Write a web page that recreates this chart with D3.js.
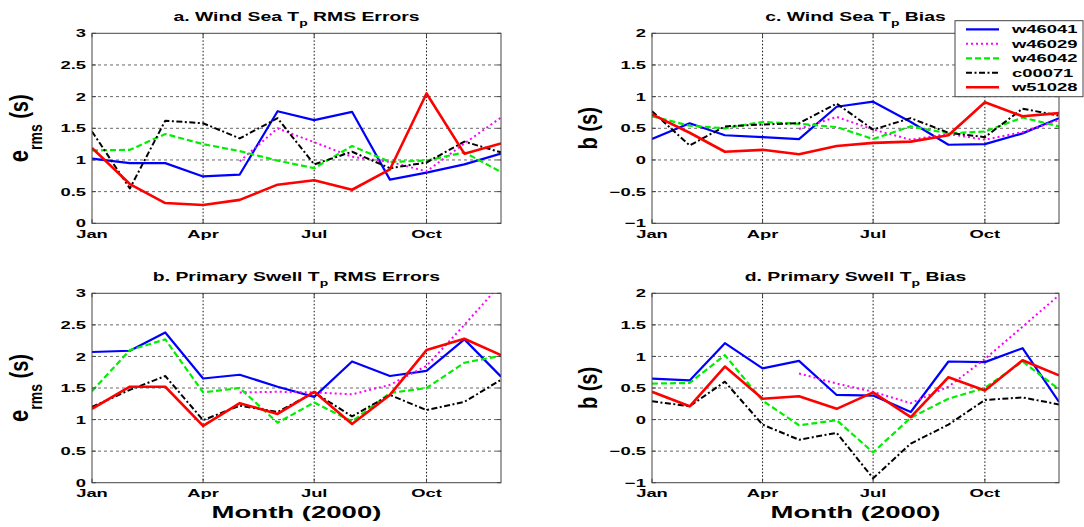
<!DOCTYPE html>
<html><head><meta charset="utf-8">
<script src="https://cdn.jsdelivr.net/npm/d3@7"></script>
<style>body{margin:0;background:#fff} svg{display:block}</style>
</head><body><svg id="c" width="1084" height="527"></svg>
<script>
// ---------- DATA ----------
const monthIdx = [0,1,2,3,4,5,6,7,8,9,10,11];
const xTickMonths = [0,3,6,9];
const xTickLabels = ["Jan","Apr","Jul","Oct"];
const stationNames = ["w46041","w46029","w46042","c00071","w51028"];
const rmsTicks = [0,0.5,1,1.5,2,2.5,3];
const biasTicks = [-1,-0.5,0,0.5,1,1.5,2];

// a. Wind Sea Tp RMS Errors
const windRms_w46041 = [1.02,0.95,0.95,0.74,0.77,1.77,1.63,1.76,0.69,0.80,0.93,1.10];
const windRms_w46029 = [null,null,null,null,0.98,1.50,1.28,1.05,0.97,0.82,1.26,1.67];
const windRms_w46042 = [1.15,1.16,1.41,1.25,1.14,0.99,0.87,1.22,0.97,0.99,1.12,0.81];
const windRms_c00071 = [1.45,0.55,1.62,1.58,1.34,1.66,0.93,1.13,0.87,0.96,1.29,1.12];
const windRms_w51028 = [1.19,0.62,0.32,0.29,0.37,0.61,0.68,0.53,0.85,2.05,1.10,1.26];

// b. Primary Swell Tp RMS Errors
const swellRms_w46041 = [2.07,2.09,2.38,1.65,1.71,1.52,1.36,1.92,1.69,1.77,2.27,1.68];
const swellRms_w46029 = [null,null,null,null,1.43,1.44,1.43,1.40,1.55,1.85,2.50,3.15];
const swellRms_w46042 = [1.45,2.10,2.27,1.43,1.50,0.95,1.27,0.97,1.42,1.50,1.90,2.01];
const swellRms_c00071 = [1.20,1.47,1.69,0.99,1.22,1.12,1.43,1.05,1.39,1.15,1.28,1.63];
const swellRms_w51028 = [1.17,1.52,1.52,0.90,1.26,1.09,1.44,0.93,1.39,2.10,2.28,2.02];

// c. Wind Sea Tp Bias
const windBias_w46041 = [0.33,0.58,0.39,0.36,0.33,0.84,0.92,0.60,0.24,0.25,0.42,0.66];
const windBias_w46029 = [null,null,null,null,0.49,0.68,0.48,0.32,0.41,0.32,0.44,0.63];
const windBias_w46042 = [0.69,0.54,0.50,0.60,0.57,0.52,0.33,0.53,0.42,0.45,0.67,0.53];
const windBias_c00071 = [0.77,0.23,0.53,0.56,0.58,0.89,0.48,0.66,0.43,0.36,0.81,0.70];
const windBias_w51028 = [0.72,0.43,0.13,0.16,0.09,0.22,0.27,0.29,0.39,0.91,0.69,0.74];

// d. Primary Swell Tp Bias
const swellBias_w46041 = [0.65,0.62,1.21,0.81,0.93,0.39,0.38,0.12,0.92,0.91,1.13,0.28];
const swellBias_w46029 = [null,null,null,null,0.73,0.57,0.44,0.26,0.52,0.96,1.47,1.97];
const swellBias_w46042 = [0.57,0.58,1.02,0.30,-0.09,-0.01,-0.52,0.03,0.33,0.50,0.92,0.48];
const swellBias_c00071 = [0.29,0.21,0.60,-0.08,-0.32,-0.21,-0.93,-0.38,-0.08,0.31,0.35,0.24];
const swellBias_w51028 = [0.44,0.21,0.84,0.33,0.37,0.17,0.43,0.04,0.67,0.46,0.94,0.70];

// ---------- STYLE ----------
const styles = [
  {color:"#0000ff", width:2.2, dash:null},
  {color:"#ff00ff", width:2,   dash:"2,3"},
  {color:"#00ee00", width:2.2, dash:"6,3"},
  {color:"#000000", width:2,   dash:"6,2.5,2,2.5"},
  {color:"#ff0000", width:2.6, dash:null}
];
const FONT = "'Liberation Sans', Arial, Helvetica, sans-serif";
const SX = 1.6;

const svg = d3.select("#c");

function stext(parent, x, y, anchor, size, sx) {
  return parent.append("text")
    .attr("transform", `translate(${x},${y}) scale(${sx},1)`)
    .attr("text-anchor", anchor)
    .style("font-family", FONT)
    .style("font-size", size + "px")
    .style("font-weight", "bold")
    .attr("fill", "#000");
}

const panels = [
  {key:"a", title:["a. Wind Sea T","p"," RMS Errors"], x0:92, x1:501, y0:33.3, y1:223.3,
   domain:[0,3], ticks:rmsTicks, ylab:"rms", lx:28, xlabel:false,
   series:[windRms_w46041,windRms_w46029,windRms_w46042,windRms_c00071,windRms_w51028]},
  {key:"b", title:["b. Primary Swell T","p"," RMS Errors"], x0:92, x1:501, y0:293.3, y1:482.7,
   domain:[0,3], ticks:rmsTicks, ylab:"rms", lx:28, xlabel:true,
   series:[swellRms_w46041,swellRms_w46029,swellRms_w46042,swellRms_c00071,swellRms_w51028]},
  {key:"c", title:["c. Wind Sea T","p"," Bias"], x0:652, x1:1059, y0:33.3, y1:223.3,
   domain:[-1,2], ticks:biasTicks, ylab:"bias", lx:597, xlabel:false,
   series:[windBias_w46041,windBias_w46029,windBias_w46042,windBias_c00071,windBias_w51028]},
  {key:"d", title:["d. Primary Swell T","p"," Bias"], x0:652, x1:1059, y0:293.3, y1:482.7,
   domain:[-1,2], ticks:biasTicks, ylab:"bias", lx:597, xlabel:true,
   series:[swellBias_w46041,swellBias_w46029,swellBias_w46042,swellBias_c00071,swellBias_w51028]}
];

const defs = svg.append("defs");

panels.forEach(p => {
  const x = d3.scaleTime().domain([new Date(2000,0,1), new Date(2000,11,1)]).range([p.x0, p.x1]);
  const y = d3.scaleLinear().domain(p.domain).range([p.y1, p.y0]);
  const g = svg.append("g");

  // grid
  const inner = p.ticks.filter(t => t !== p.domain[0] && t !== p.domain[1]);
  g.selectAll(null).data(inner).enter().append("line")
    .attr("x1", p.x0).attr("x2", p.x1)
    .attr("y1", d => y(d)).attr("y2", d => y(d))
    .attr("stroke", "#6a6a6a").attr("stroke-width", 1).attr("stroke-dasharray", "3,3");
  g.selectAll(null).data(xTickMonths.slice(1)).enter().append("line")
    .attr("x1", d => x(new Date(2000,d,1))).attr("x2", d => x(new Date(2000,d,1)))
    .attr("y1", p.y0).attr("y2", p.y1)
    .attr("stroke", "#111").attr("stroke-width", 1).attr("stroke-dasharray", "1.5,2");

  // series
  defs.append("clipPath").attr("id", "clip-" + p.key).append("rect")
    .attr("x", p.x0).attr("y", p.y0).attr("width", p.x1 - p.x0).attr("height", p.y1 - p.y0);
  const line = d3.line()
    .defined(d => d.v !== null)
    .x(d => x(new Date(2000, d.m, 1)))
    .y(d => y(d.v));
  const lg = g.append("g").attr("clip-path", `url(#clip-${p.key})`);
  p.series.forEach((arr, i) => {
    const st = styles[i];
    lg.append("path")
      .datum(monthIdx.map(m => ({m: m, v: arr[m]})))
      .attr("d", line)
      .attr("fill", "none")
      .attr("stroke", st.color)
      .attr("stroke-width", st.width)
      .attr("stroke-dasharray", st.dash)
      .attr("stroke-linejoin", "round");
  });

  // frame
  g.append("rect").attr("x", p.x0).attr("y", p.y0)
    .attr("width", p.x1 - p.x0).attr("height", p.y1 - p.y0)
    .attr("fill", "none").attr("stroke", "#444").attr("stroke-width", 1);

  // tick marks (inward)
  p.ticks.forEach(t => {
    g.append("line").attr("x1", p.x0).attr("x2", p.x0 + 4).attr("y1", y(t)).attr("y2", y(t)).attr("stroke", "#444");
    g.append("line").attr("x1", p.x1).attr("x2", p.x1 - 4).attr("y1", y(t)).attr("y2", y(t)).attr("stroke", "#444");
  });
  xTickMonths.forEach(m => {
    const xx = x(new Date(2000, m, 1));
    g.append("line").attr("x1", xx).attr("x2", xx).attr("y1", p.y0).attr("y2", p.y0 + 4).attr("stroke", "#444");
    g.append("line").attr("x1", xx).attr("x2", xx).attr("y1", p.y1).attr("y2", p.y1 - 4).attr("stroke", "#444");
  });

  // y tick labels
  p.ticks.forEach(t => {
    stext(g, p.x0 - 6, y(t), "end", 11.5, SX).attr("dy", "0.36em").text(d3.format("")(t));
  });
  // x tick labels
  xTickMonths.forEach((m, i) => {
    stext(g, x(new Date(2000, m, 1)), p.y1 + 14.5, "middle", 11.5, SX).text(xTickLabels[i]);
  });

  // title
  const cx = (p.x0 + p.x1) / 2;
  const tt = stext(g, cx, p.y0 - 12.8, "middle", 12.5, 1.55);
  tt.append("tspan").text(p.title[0]);
  tt.append("tspan").attr("dy", 5).style("font-size", "9px").text(p.title[1]);
  tt.append("tspan").attr("dy", -5).text(p.title[2]);

  // y label
  const cy = (p.y0 + p.y1) / 2;
  const yl = g.append("text")
    .attr("transform", `translate(${p.lx},${cy}) rotate(-90) scale(1,1.25)`)
    .attr("text-anchor", "middle")
    .style("font-family", FONT).style("font-weight", "bold").style("font-size", "20px");
  if (p.ylab === "rms") {
    yl.append("tspan").style("font-size", "22px").text("e");
    yl.append("tspan").attr("dy", 11).style("font-size", "14px").text("rms");
    yl.append("tspan").attr("dy", -11).text(" (s)");
  } else {
    yl.text("b (s)");
  }

  // x label
  if (p.xlabel) {
    stext(g, cx, p.y1 + 35.5, "middle", 17, 1.62).text("Month (2000)");
  }
});

// legend
const leg = svg.append("g");
leg.append("rect").attr("x", 955).attr("y", 20.7).attr("width", 128).attr("height", 76)
  .attr("fill", "#fff").attr("stroke", "#444").attr("stroke-width", 1);
const rowY = d3.scalePoint().domain(stationNames).range([29.3, 87.3]);
stationNames.forEach((name, i) => {
  const st = styles[i];
  leg.append("line").attr("x1", 966).attr("x2", 999)
    .attr("y1", rowY(name)).attr("y2", rowY(name))
    .attr("stroke", st.color).attr("stroke-width", st.width)
    .attr("stroke-dasharray", st.dash);
  stext(leg, 1012, rowY(name), "start", 11.5, SX).attr("dy", "0.36em").text(name);
});
</script>
</body></html>
